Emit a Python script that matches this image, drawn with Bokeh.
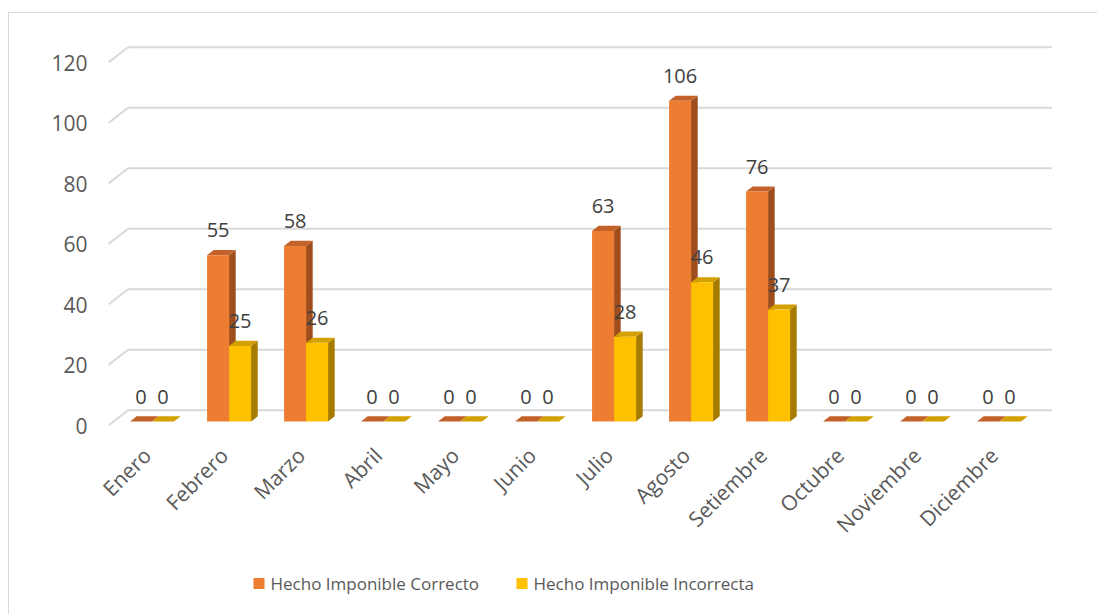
from bokeh.plotting import figure
from bokeh.layouts import column
from bokeh.models import Range1d, FixedTicker
from bokeh.core.properties import value
from bokeh.embed import file_html
from bokeh.resources import INLINE

months = ["Enero", "Febrero", "Marzo", "Abril", "Mayo", "Junio", "Julio",
          "Agosto", "Setiembre", "Octubre", "Noviembre", "Diciembre"]
correcto = [0, 55, 58, 0, 0, 0, 63, 106, 76, 0, 0, 0]
incorrecta = [0, 25, 26, 0, 0, 0, 28, 46, 37, 0, 0, 0]
series_names = ["Hecho Imponible Correcto", "Hecho Imponible Incorrecta"]
y_ticks = [0, 20, 40, 60, 80, 100, 120]

FRONT = ["#ED7D31", "#FFC000"]
TOP = ["#C2612A", "#D2A000"]
SIDE = ["#9E4D1C", "#A67C00"]
FONT = value("Open Sans")

# layout (pixels)
W, H, HL = 1088, 550, 51
PX_X = 77.0          # px per category
PX_Y = 3.025         # px per value unit
DX = 19.5 / PX_X     # depth offset of back wall (x, data units)
DY = 15.3 / PX_Y     # depth offset of back wall (y, data units)
ZF, ZB = 0.26, 0.60  # bar front / back depth
BAR_W = 1 / 3.5      # gap width 150%
FRAME_W, FRAME_H = 947, 385
LEFT, TOPB = 99, 32

p = figure(width=W, height=H, output_backend="svg", toolbar_location=None,
           x_range=Range1d(0, FRAME_W / PX_X),
           y_range=Range1d(-5 / PX_Y, (FRAME_H - 5) / PX_Y),
           min_border_left=LEFT, min_border_top=TOPB,
           min_border_right=W - LEFT - FRAME_W,
           min_border_bottom=H - TOPB - FRAME_H)
p.outline_line_color = None
p.xgrid.visible = False
p.ygrid.visible = False
p.background_fill_color = "white"
p.border_fill_color = "white"

# back wall gridlines + left wall slants
n = len(months)
p.segment(x0=[DX] * len(y_ticks), y0=[v + DY for v in y_ticks],
          x1=[n + DX] * len(y_ticks), y1=[v + DY for v in y_ticks],
          line_color="#D9D9D9", line_width=2)
p.segment(x0=[0] * len(y_ticks), y0=y_ticks,
          x1=[DX] * len(y_ticks), y1=[v + DY for v in y_ticks],
          line_color="#D9D9D9", line_width=2)

label_x, label_y, label_t = [], [], []
for s, vals in enumerate([correcto, incorrecta]):
    xl = [i + 0.5 + (s - 1) * BAR_W for i in range(n)]
    xr = [x + BAR_W for x in xl]
    side_xs = [[r + ZF * DX, r + ZF * DX, r + ZB * DX, r + ZB * DX] for r in xr]
    side_ys = [[ZF * DY, v + ZF * DY, v + ZB * DY, ZB * DY] for v in vals]
    top_xs = [[l + ZF * DX, r + ZF * DX, r + ZB * DX, l + ZB * DX] for l, r in zip(xl, xr)]
    top_ys = [[v + ZF * DY, v + ZF * DY, v + ZB * DY, v + ZB * DY] for v in vals]
    p.patches(side_xs, side_ys, fill_color=SIDE[s], line_color=None)
    p.patches(top_xs, top_ys, fill_color=TOP[s], line_color=None)
    p.quad(left=[l + ZF * DX for l in xl], right=[r + ZF * DX for r in xr],
           bottom=[ZF * DY] * n, top=[v + ZF * DY for v in vals],
           fill_color=FRONT[s], line_color=None)
    for l, r, v in zip(xl, xr, vals):
        label_x.append((l + r) / 2 + ZF * DX)
        label_y.append(v + ZF * DY + 25 / PX_Y)
        label_t.append(str(v))

p.text(x=label_x, y=label_y, text=label_t, text_align="center",
       text_baseline="middle", text_font=FONT, text_font_size="20px",
       text_color="#404040")

# axes
p.yaxis.ticker = FixedTicker(ticks=y_ticks)
p.yaxis.axis_line_color = None
p.yaxis.major_tick_line_color = None
p.yaxis.minor_tick_line_color = None
p.yaxis.major_tick_out = 0
p.yaxis.major_label_standoff = 21
p.yaxis.major_label_text_font = "Open Sans"
p.yaxis.major_label_text_font_size = "21px"
p.yaxis.major_label_text_color = "#595959"

xt = [i + 0.5 for i in range(n)]
p.xaxis.ticker = FixedTicker(ticks=xt)
p.xaxis.major_label_overrides = {t: m for t, m in zip(xt, months)}
p.xaxis.axis_line_color = None
p.xaxis.major_tick_line_color = None
p.xaxis.minor_tick_line_color = None
p.xaxis.major_tick_out = 0
p.xaxis.major_label_standoff = 21
p.xaxis.major_label_orientation = 0.785398
p.xaxis.major_label_text_font = "Open Sans"
p.xaxis.major_label_text_font_size = "21px"
p.xaxis.major_label_text_color = "#595959"

# legend strip (pixel coordinates relative to the aligned plot frame)
LEG_X = [145, 408]   # left edge of each legend square, from frame left
LEG_Y = 31           # centre line from bottom of strip
SQ = 11
q = figure(width=W, height=HL, output_backend="svg", toolbar_location=None,
           x_range=Range1d(0, FRAME_W), y_range=Range1d(0, HL),
           x_axis_type=None, y_axis_type=None,
           min_border_left=LEFT, min_border_right=W - LEFT - FRAME_W,
           min_border_top=0, min_border_bottom=0)
q.outline_line_color = None
q.xgrid.visible = False
q.ygrid.visible = False
q.background_fill_color = "white"
q.border_fill_color = "white"
q.quad(left=LEG_X, right=[x + SQ for x in LEG_X],
       bottom=[LEG_Y - SQ / 2] * 2, top=[LEG_Y + SQ / 2] * 2,
       fill_color=FRONT, line_color=None)
q.text(x=[x + SQ + 6 for x in LEG_X], y=[LEG_Y] * 2, text=series_names,
       text_align="left", text_baseline="middle", text_font=FONT,
       text_font_size="17px", text_color="#595959")

layout = column(p, q, spacing=0,
                styles={"margin-top": "12px", "margin-left": "8px",
                        "border-top": "1px solid #D9D9D9",
                        "border-left": "1px solid #D9D9D9"})

open("out.html", "w").write(file_html(layout, INLINE))
